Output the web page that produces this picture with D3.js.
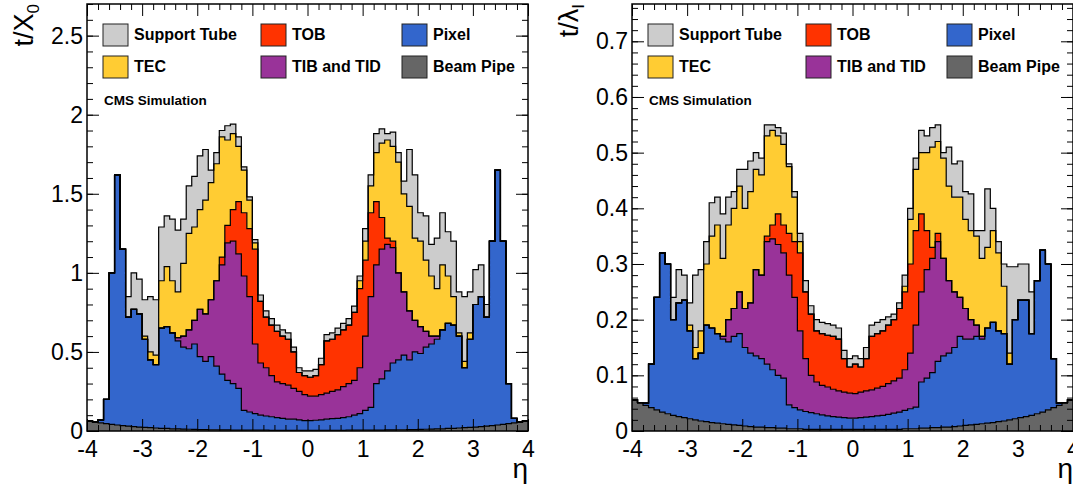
<!DOCTYPE html>
<html>
<head>
<meta charset="utf-8">
<script src="https://cdn.jsdelivr.net/npm/d3@7"></script>
<style>
  body { margin: 0; background: #fff; }
  text { font-family: "Liberation Sans", Arial, Helvetica, sans-serif; }
</style>
</head>
<body>
<svg id="chart" width="1073" height="488"></svg>
<script>
// ---- data: 80 eta bins of width 0.1, lower edges from -4.0 to 3.9 ----

var binLow = d3.range(80).map(function(i) { return +(-4 + i / 10).toFixed(1); });
var binWidth = 0.1;

// t/X0 (radiation lengths), one array per sub-detector
var beamX0 = [
  .064,.058,.052,.047,.042,.038,.034,.031,.028,.025,
  .023,.021,.019,.017,.016,.014,.013,.012,.011,.010,
  .009,.009,.008,.008,.007,.007,.006,.006,.006,.005,
  .005,.005,.005,.004,.004,.004,.004,.004,.004,.004,
  .004,.004,.004,.004,.004,.004,.004,.005,.005,.005,
  .005,.006,.006,.006,.007,.007,.008,.008,.009,.009,
  .010,.011,.012,.013,.014,.016,.017,.019,.021,.023,
  .025,.028,.031,.034,.038,.042,.047,.052,.058,.064];
var pixelX0 = [
  0,0,.018,.153,.958,1.582,1.116,.689,.742,.715,
  .557,.429,.401,.633,.644,.606,.557,.518,.509,.540,
  .461,.431,.462,.402,.353,.313,.294,.264,.124,.115,
  .105,.095,.090,.086,.081,.076,.071,.071,.066,.061,
  .061,.064,.066,.071,.074,.076,.081,.085,.095,.105,
  .125,.144,.294,.324,.373,.423,.442,.472,.441,.491,
  .480,.519,.538,.567,.626,.664,.653,.581,.379,.557,
  .775,.822,.689,1.166,1.612,1.158,.253,.028,0,0];
var tibX0 = [
  0,0,0,0,0,0,0,0,0,0,
  0,0,0,0,0,0,.02,.07,.12,.15,
  .30,.30,.36,.54,.69,.87,.90,.85,.85,.73,
  .44,.33,.305,.26,.225,.22,.215,.195,.18,.165,
  .155,.152,.16,.165,.172,.18,.195,.21,.22,.29,
  .47,.70,.75,.82,.80,.73,.55,.40,.31,.20,
  .17,.10,.05,.02,0,0,0,0,0,0,
  0,0,0,0,0,0,0,0,0,0];
var tobX0 = [
  0,0,0,0,0,0,0,0,0,0,
  0,0,0,0,0,0,0,0,0,0,
  0,0,0,0,.05,.11,.20,.33,.40,.43,
  .60,.39,.32,.32,.32,.30,.29,.23,.12,.12,
  .12,.13,.19,.33,.33,.35,.36,.37,.43,.50,
  .48,.53,.40,.20,.04,.04,0,0,0,0,
  0,0,0,0,0,0,0,0,0,0,
  0,0,0,0,0,0,0,0,0,0];
var tecX0 = [
  0,0,0,0,0,0,0,0,0,0,
  .02,.05,.06,.30,.38,.33,.29,.46,.61,.59,
  .63,.72,.74,.74,.76,.54,.48,.35,.27,.18,
  .04,0,0,0,0,0,0,0,0,0,
  0,0,0,0,0,0,0,0,0,.05,
  .12,.17,.31,.47,.62,.60,.70,.62,.66,.52,
  .54,.45,.38,.30,.41,.30,.18,.02,.04,.04,
  0,0,0,0,0,0,0,0,0,0];
var supportX0 = [
  0,0,0,0,0,0,0,.13,.23,.22,
  .23,.35,.35,.34,.32,.39,.39,.28,.30,.32,
  .34,.32,.08,.07,.04,.09,.06,.06,.02,.02,
  .02,.04,.04,.04,.04,.04,.04,.03,.03,.03,
  .04,.04,.04,.04,.04,.04,.04,.04,.04,.03,
  .08,.07,.12,.09,.04,.09,.06,.08,.36,.40,
  .18,.28,.20,.32,.33,.28,.35,.26,.41,.26,
  .22,.20,.08,0,0,0,0,0,0,0];

// t/lambda_I (nuclear interaction lengths)
var beamLam = [
  .056,.051,.046,.042,.038,.034,.031,.028,.026,.024,
  .022,.020,.018,.017,.015,.014,.013,.012,.011,.010,
  .009,.008,.007,.007,.006,.006,.005,.005,.004,.004,
  .004,.003,.003,.003,.003,.003,.003,.003,.003,.003,
  .003,.003,.003,.003,.003,.003,.003,.003,.003,.004,
  .004,.004,.005,.005,.006,.006,.007,.007,.008,.009,
  .010,.011,.012,.013,.014,.015,.017,.018,.020,.022,
  .024,.026,.028,.031,.034,.038,.042,.046,.051,.056];
var pixelLam = [
  0,0,.004,.078,.202,.286,.269,.172,.204,.211,
  .158,.110,.122,.173,.170,.161,.152,.148,.159,.165,
  .141,.132,.128,.123,.114,.104,.095,.090,.043,.038,
  .034,.032,.030,.028,.026,.024,.023,.022,.021,.020,
  .020,.021,.022,.023,.024,.025,.027,.029,.031,.033,
  .036,.039,.083,.090,.099,.119,.128,.133,.142,.161,
  .155,.154,.158,.152,.171,.180,.163,.157,.100,.178,
  .211,.209,.147,.239,.291,.262,.088,.004,0,0];
var tibLam = [
  0,0,0,0,0,0,0,0,0,0,
  0,0,0,0,0,0,.005,.04,.05,.075,
  .07,.09,.155,.15,.22,.235,.235,.225,.233,.198,
  .142,.095,.067,.057,.053,.052,.049,.047,.046,.045,
  .044,.046,.047,.048,.05,.052,.055,.058,.061,.073,
  .10,.147,.162,.195,.205,.215,.175,.13,.10,.07,
  .055,.035,.02,.005,0,0,0,0,0,0,
  0,0,0,0,0,0,0,0,0,0];
var tobLam = [
  0,0,0,0,0,0,0,0,0,0,
  0,0,0,0,0,0,0,0,0,0,
  0,0,0,0,.01,.025,.055,.05,.075,.10,
  .14,.12,.11,.092,.093,.093,.095,.093,.06,.047,
  .053,.045,.058,.096,.098,.10,.105,.11,.125,.14,
  .16,.17,.14,.07,.02,.015,0,0,0,0,
  0,0,0,0,0,0,0,0,0,0,
  0,0,0,0,0,0,0,0,0,0];
var tecLam = [
  0,0,0,0,0,0,0,0,0,0,
  .01,.02,.04,.11,.165,.195,.14,.17,.18,.19,
  .18,.20,.18,.18,.18,.17,.14,.145,.12,.08,
  .02,0,0,0,0,0,0,0,0,0,
  0,0,0,0,0,0,0,0,0,.01,
  .08,.11,.11,.14,.18,.165,.18,.17,.17,.18,
  .16,.16,.16,.14,.145,.165,.14,.085,.02,0,
  0,0,0,0,0,0,0,0,0,0];
var supportLam = [
  0,0,0,0,0,0,0,.04,.06,.045,
  .04,.13,.11,.04,.06,.05,.08,.05,.03,.03,
  .07,.055,.03,.03,.02,.01,.015,.02,.005,.01,
  .015,.02,.015,.02,.02,.021,.02,.02,.015,.015,
  .015,.015,.02,.02,.02,.02,.015,.01,.01,.02,
  .02,.02,.04,.03,.035,.03,.01,.07,.06,.065,
  .05,.066,.01,.05,.105,.04,.02,.04,.155,.095,
  .065,.065,.075,0,0,0,0,0,0,0];

// tick labels
var xTicks = [-4, -3, -2, -1, 0, 1, 2, 3, 4];
var yTicksX0 = [0, 0.5, 1, 1.5, 2, 2.5];
var yTicksLam = [0, 0.1, 0.2, 0.3, 0.4, 0.5, 0.6, 0.7];

// stack order, bottom to top
var keys = ["beam", "pixel", "tib", "tob", "tec", "support"];
var names = {support: "Support Tube", tob: "TOB", pixel: "Pixel",
             tec: "TEC", tib: "TIB and TID", beam: "Beam Pipe"};
var colors = {support: "#cccccc", tec: "#ffcc33", tob: "#ff3300",
              tib: "#993399", pixel: "#3366cc", beam: "#666666"};
// legend: 3 columns x 2 rows
var legendRows = [["support", "tob", "pixel"], ["tec", "tib", "beam"]];

var svg = d3.select("#chart");
var frameTop = 4, frameBottom = 431, panelW = 441;

function drawPanel(cfg) {
  var left = cfg.left, right = left + panelW;
  var g = svg.append("g");

  var x = d3.scaleLinear().domain([-4, 4]).range([left, right]);
  var y = d3.scaleLinear().domain([0, cfg.ymax]).range([frameBottom, frameTop]);

  var rows = binLow.map(function(lo, i) {
    var r = {lo: lo, hi: lo + binWidth};
    keys.forEach(function(k) { r[k] = cfg.data[k][i]; });
    return r;
  });
  var series = d3.stack().keys(keys)(rows);

  g.append("clipPath").attr("id", "clip" + cfg.id)
    .append("rect").attr("x", left).attr("y", frameTop)
    .attr("width", panelW).attr("height", frameBottom - frameTop);
  var plot = g.append("g").attr("clip-path", "url(#clip" + cfg.id + ")");

  // histogram steps: two points per bin
  function steps(s) {
    var pts = [];
    s.forEach(function(d) {
      pts.push({x: d.data.lo, y0: d[0], y1: d[1]});
      pts.push({x: d.data.hi, y0: d[0], y1: d[1]});
    });
    return pts;
  }
  var area = d3.area().x(function(p) { return x(p.x); })
    .y0(function(p) { return y(p.y0); }).y1(function(p) { return y(p.y1); });
  var line = d3.line().x(function(p) { return x(p.x); })
    .y(function(p) { return y(p.y1); });

  series.forEach(function(s) {
    plot.append("path").datum(steps(s)).attr("d", area)
      .attr("fill", colors[s.key]).attr("stroke", "none");
  });
  series.forEach(function(s) {
    plot.append("path").datum(steps(s)).attr("d", line)
      .attr("fill", "none").attr("stroke", "#000").attr("stroke-width", 1.2);
  });

  // axes, ROOT style ticks inside the frame
  var xMinor = d3.range(-40, 41, 2).filter(function(v) { return v % 10 != 0; })
    .map(function(v) { return v / 10; });
  var yMinor = d3.range(0, Math.round(cfg.ymax / cfg.minor) + 1)
    .map(function(i) { return +(i * cfg.minor).toFixed(3); })
    .filter(function(v) { return v <= cfg.ymax; });

  function styleAxis(sel) {
    sel.select(".domain").remove();
    sel.selectAll("line").attr("stroke", "#000");
    sel.selectAll("text").attr("font-size", 23).attr("fill", "#000");
  }
  var noLabel = function() { return ""; };

  g.append("g").attr("transform", "translate(0," + frameBottom + ")")
    .call(d3.axisBottom(x).tickValues(xTicks).tickSize(-12).tickPadding(10)
      .tickFormat(function(d) { return String(d); }))
    .call(styleAxis);
  g.append("g").attr("transform", "translate(0," + frameBottom + ")")
    .call(d3.axisBottom(x).tickValues(xMinor).tickSize(-6).tickFormat(noLabel))
    .call(styleAxis);
  g.append("g").attr("transform", "translate(0," + frameTop + ")")
    .call(d3.axisTop(x).tickValues(xTicks).tickSize(-12).tickFormat(noLabel))
    .call(styleAxis);
  g.append("g").attr("transform", "translate(0," + frameTop + ")")
    .call(d3.axisTop(x).tickValues(xMinor).tickSize(-6).tickFormat(noLabel))
    .call(styleAxis);

  g.append("g").attr("transform", "translate(" + left + ",0)")
    .call(d3.axisLeft(y).tickValues(cfg.yTicks).tickSize(-12).tickPadding(4)
      .tickFormat(function(d) { return String(d); }))
    .call(styleAxis);
  g.append("g").attr("transform", "translate(" + left + ",0)")
    .call(d3.axisLeft(y).tickValues(yMinor).tickSize(-6).tickFormat(noLabel))
    .call(styleAxis);
  g.append("g").attr("transform", "translate(" + right + ",0)")
    .call(d3.axisRight(y).tickValues(cfg.yTicks).tickSize(-12).tickFormat(noLabel))
    .call(styleAxis);
  g.append("g").attr("transform", "translate(" + right + ",0)")
    .call(d3.axisRight(y).tickValues(yMinor).tickSize(-6).tickFormat(noLabel))
    .call(styleAxis);

  g.append("rect").attr("x", left).attr("y", frameTop)
    .attr("width", panelW).attr("height", frameBottom - frameTop)
    .attr("fill", "none").attr("stroke", "#000").attr("stroke-width", 1.5);

  // axis titles
  var yt = g.append("text")
    .attr("transform", "translate(" + (left - 54) + "," + frameTop + ") rotate(-90)")
    .attr("text-anchor", "end").attr("font-size", 27).attr("fill", "#000");
  yt.append("tspan").text(cfg.yTitle);
  yt.append("tspan").attr("font-size", 17).attr("dy", 6).text(cfg.ySub);

  g.append("text").attr("x", right).attr("y", 478)
    .attr("text-anchor", "end").attr("font-size", 28).attr("fill", "#000")
    .text("\u03b7");

  // legend
  var colX = [16, 174, 315], rowY = [24, 56];
  legendRows.forEach(function(row, ri) {
    row.forEach(function(k, ci) {
      var bx = left + colX[ci], by = rowY[ri];
      g.append("rect").attr("x", bx).attr("y", by).attr("width", 25).attr("height", 22)
        .attr("fill", colors[k]).attr("stroke", "#222").attr("stroke-width", 1);
      g.append("text").attr("x", bx + 31).attr("y", by + 16)
        .attr("font-size", 16).attr("font-weight", "bold").attr("fill", "#000")
        .text(names[k]);
    });
  });

  g.append("text").attr("x", left + 17).attr("y", 105)
    .attr("font-size", 13.5).attr("font-weight", "bold").attr("fill", "#000")
    .text("CMS Simulation");
}

drawPanel({
  id: "X0", left: 87, ymax: 2.7, minor: 0.1, yTicks: yTicksX0,
  yTitle: "t/X", ySub: "0",
  data: {beam: beamX0, pixel: pixelX0, tib: tibX0, tob: tobX0, tec: tecX0, support: supportX0}
});

drawPanel({
  id: "Lam", left: 632, ymax: 0.767, minor: 0.02, yTicks: yTicksLam,
  yTitle: "t/\u03bb", ySub: "I",
  data: {beam: beamLam, pixel: pixelLam, tib: tibLam, tob: tobLam, tec: tecLam, support: supportLam}
});
</script>
</body>
</html>
